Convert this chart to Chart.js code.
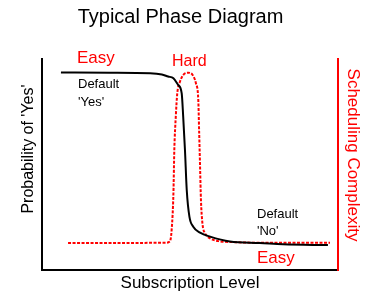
<!DOCTYPE html>
<html>
<head>
<meta charset="utf-8">
<script src="https://cdn.jsdelivr.net/npm/chart.js@4.4.1/dist/chart.umd.min.js"></script>
<style>
    body { margin: 0; background: #fff; }
    #wrap { width: 375px; height: 300px; }
</style>
</head>
<body>
<div id="wrap"><canvas id="chart" width="375" height="300"></canvas></div>
<script>
// valores (nivel de suscripcion 0-100, escalas 0-100)
const nivelProb = [6.4, 23.0, 36.5, 40.5, 42.6, 44.4, 46.0, 47.2, 47.7, 48.3, 48.9, 49.8, 51.1, 53.4, 56.8, 63.5, 73.6, 81.4, 96.6];
const probSi = [93.6, 93.5, 93.3, 92.7, 91.7, 90.9, 87.7, 83.7, 72.7, 56.9, 37.9, 25.3, 20.5, 17.7, 15.8, 13.5, 12.8, 12.2, 11.8];

const nivelComplej = [8.8, 26.4, 41.6, 43.2, 43.8, 44.4, 44.7, 45.2, 45.7, 46.6, 47.7, 49.4, 50.9, 52.0, 52.8, 53.1, 53.4, 53.7, 54.2, 55.1, 56.8, 60.1, 65.2, 73.6, 97.3];
const complejidad = [12.8, 12.8, 12.9, 13.5, 19.0, 36.4, 56.9, 72.7, 83.7, 89.2, 92.4, 93.5, 92.4, 88.5, 80.6, 64.9, 49.0, 33.2, 22.1, 17.4, 15.0, 13.6, 13.2, 12.9, 12.9];

const FUENTE = "'Liberation Sans', Arial, sans-serif";
const ROJO = '#ff0000';

const textos = {
    id: 'textos',
    afterDraw(chart) {
        const ctx = chart.ctx;
        ctx.save();
        ctx.textBaseline = 'alphabetic';
        ctx.textAlign = 'left';

        ctx.fillStyle = ROJO;
        ctx.font = `17px ${FUENTE}`;
        ctx.fillText('Easy', 77, 63);
        ctx.fillText('Easy', 257, 263);
        ctx.font = `16px ${FUENTE}`;
        ctx.fillText('Hard', 172, 66);

        ctx.fillStyle = '#000';
        ctx.font = `13px ${FUENTE}`;
        ctx.fillText('Default', 78, 88);
        ctx.fillText("'Yes'", 78, 106);
        ctx.fillText('Default', 257, 218);
        ctx.fillText("'No'", 257, 235);

        // titulos de los ejes verticales
        ctx.textAlign = 'center';
        ctx.font = `16px ${FUENTE}`;
        ctx.save();
        ctx.translate(32.5, 149);
        ctx.rotate(-Math.PI / 2);
        ctx.fillText("Probability of 'Yes'", 0, 0);
        ctx.restore();

        ctx.fillStyle = ROJO;
        ctx.font = `17px ${FUENTE}`;
        ctx.save();
        ctx.translate(348, 155);
        ctx.rotate(Math.PI / 2);
        ctx.fillText('Scheduling Complexity', 0, 0);
        ctx.restore();

        ctx.restore();
    }
};

new Chart(document.getElementById('chart').getContext('2d'), {
    type: 'line',
    data: {
        datasets: [
            {
                label: 'Probability',
                data: nivelProb.map((x, i) => ({ x, y: probSi[i] })),
                borderColor: '#000',
                borderWidth: 2,
                pointRadius: 0,
                cubicInterpolationMode: 'monotone',
                yAxisID: 'y'
            },
            {
                label: 'Complexity',
                data: nivelComplej.map((x, i) => ({ x, y: complejidad[i] })),
                borderColor: ROJO,
                borderWidth: 2,
                borderDash: [3, 1.5],
                pointRadius: 0,
                cubicInterpolationMode: 'monotone',
                yAxisID: 'y1'
            }
        ]
    },
    options: {
        responsive: false,
        animation: false,
        layout: { padding: { left: 0, right: 14, top: 0, bottom: 0 } },
        plugins: {
            legend: { display: false },
            tooltip: { enabled: false },
            title: {
                display: true,
                text: 'Typical Phase Diagram',
                color: '#000',
                font: { family: FUENTE, size: 20, weight: 'normal' },
                padding: { top: 5, bottom: 30 }
            }
        },
        scales: {
            x: {
                type: 'linear', min: 0, max: 100,
                grid: { display: false },
                ticks: { display: false },
                border: { display: true, color: '#000', width: 2 },
                title: {
                    display: true, text: 'Subscription Level', color: '#000',
                    font: { family: FUENTE, size: 17 },
                    padding: { top: 0, bottom: 6.7 }
                },
                afterFit: s => { s.height = 30; }
            },
            y: {
                position: 'left', min: 0, max: 100,
                grid: { display: false },
                ticks: { display: false },
                border: { display: true, color: '#000', width: 2 },
                afterFit: s => { s.width = 42; }
            },
            y1: {
                position: 'right', min: 0, max: 100,
                grid: { display: false },
                ticks: { display: false },
                border: { display: true, color: ROJO, width: 2 },
                afterFit: s => { s.width = 23; }
            }
        }
    },
    plugins: [textos]
});
</script>
</body>
